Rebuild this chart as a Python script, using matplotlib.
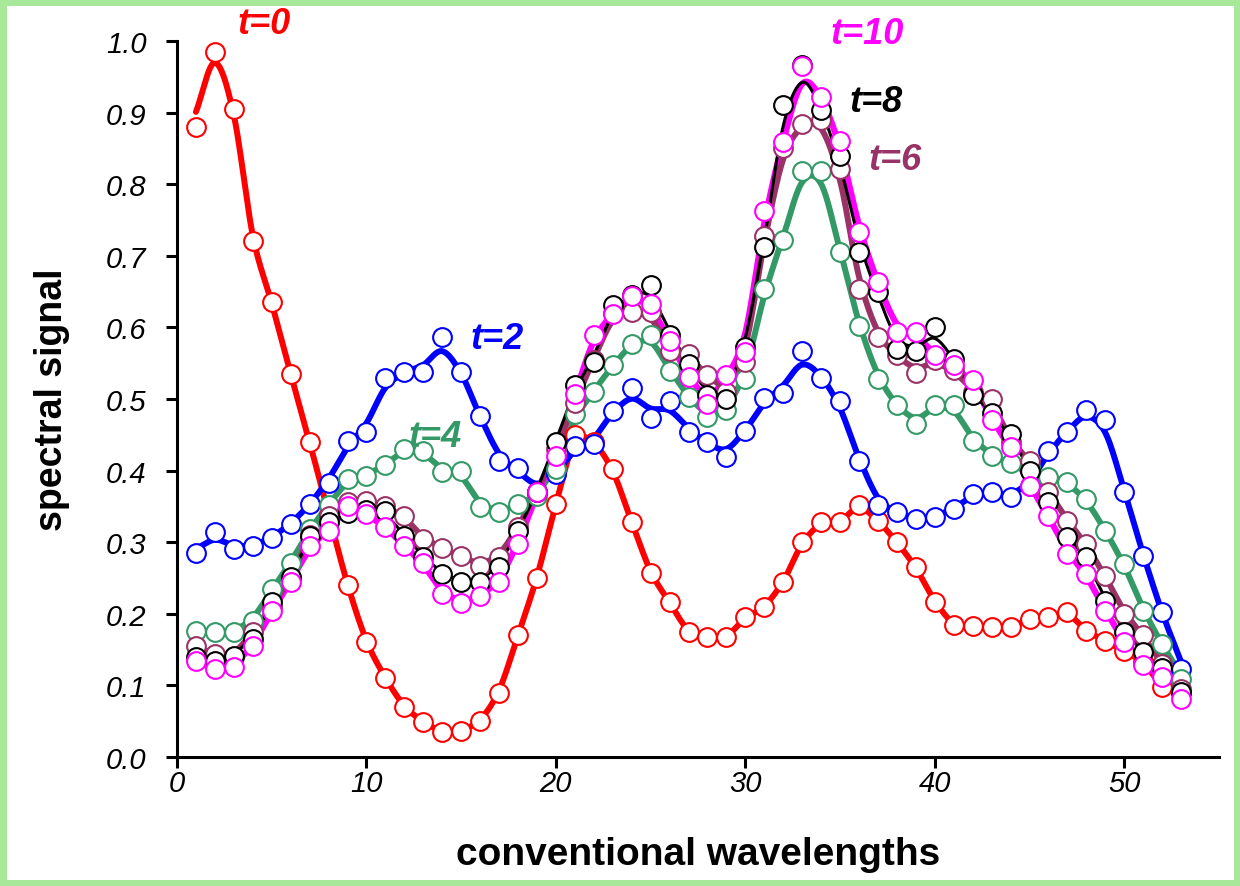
import matplotlib
matplotlib.use("Agg")
import matplotlib.pyplot as plt
import numpy as np

plt.rcParams['font.family'] = ['Liberation Sans', 'DejaVu Sans']

# conventional wavelength index
wavelengths = np.arange(1, 54)

t0 = [0.88, 0.985, 0.905, 0.72, 0.635, 0.535, 0.44, 0.34, 0.24, 0.16,
      0.11, 0.07, 0.049, 0.035, 0.037, 0.05, 0.09, 0.17, 0.25, 0.353,
      0.45, 0.44, 0.402, 0.328, 0.257, 0.216, 0.174, 0.167, 0.167, 0.195,
      0.209, 0.244, 0.30, 0.328, 0.328, 0.352, 0.33, 0.30, 0.265, 0.217,
      0.184, 0.183, 0.181, 0.181, 0.193, 0.195, 0.202, 0.176, 0.162, 0.148,
      0.133, 0.098, 0.09]
t2 = [0.285, 0.314, 0.29, 0.295, 0.306, 0.325, 0.353, 0.383, 0.441, 0.454,
      0.529, 0.538, 0.538, 0.586, 0.538, 0.476, 0.413, 0.404, 0.37, 0.395,
      0.435, 0.437, 0.483, 0.515, 0.474, 0.497, 0.454, 0.44, 0.419, 0.455,
      0.502, 0.509, 0.567, 0.53, 0.497, 0.413, 0.352, 0.342, 0.332, 0.335,
      0.346, 0.367, 0.37, 0.363, 0.379, 0.428, 0.454, 0.484, 0.47, 0.37,
      0.281, 0.202, 0.123]
t4 = [0.176, 0.175, 0.175, 0.19, 0.234, 0.271, 0.318, 0.352, 0.388, 0.392,
      0.408, 0.43, 0.427, 0.398, 0.40, 0.349, 0.342, 0.353, 0.365, 0.402,
      0.479, 0.51, 0.547, 0.577, 0.59, 0.539, 0.503, 0.475, 0.484, 0.528,
      0.654, 0.722, 0.819, 0.819, 0.706, 0.602, 0.528, 0.491, 0.465, 0.491,
      0.491, 0.442, 0.421, 0.41, 0.405, 0.391, 0.384, 0.36, 0.316, 0.27,
      0.204, 0.158, 0.109]
t6 = [0.155, 0.144, 0.14, 0.175, 0.21, 0.25, 0.31, 0.337, 0.356, 0.358,
      0.35, 0.337, 0.304, 0.292, 0.281, 0.267, 0.279, 0.321, 0.37, 0.43,
      0.495, 0.555, 0.62, 0.621, 0.621, 0.567, 0.563, 0.533, 0.51, 0.552,
      0.728, 0.85, 0.884, 0.89, 0.821, 0.654, 0.587, 0.561, 0.537, 0.555,
      0.54, 0.51, 0.50, 0.44, 0.414, 0.37, 0.33, 0.297, 0.253, 0.20,
      0.17, 0.13, 0.095]
t8 = [0.14, 0.134, 0.141, 0.165, 0.216, 0.251, 0.309, 0.328, 0.341, 0.345,
      0.344, 0.309, 0.28, 0.256, 0.244, 0.245, 0.265, 0.316, 0.37, 0.44,
      0.52, 0.552, 0.631, 0.645, 0.659, 0.59, 0.549, 0.505, 0.50, 0.573,
      0.712, 0.91, 0.966, 0.903, 0.84, 0.705, 0.65, 0.57, 0.567, 0.60,
      0.556, 0.505, 0.48, 0.451, 0.40, 0.356, 0.307, 0.28, 0.218, 0.174,
      0.146, 0.125, 0.091]
t10 = [0.134, 0.123, 0.126, 0.155, 0.204, 0.244, 0.295, 0.316, 0.351, 0.339,
       0.321, 0.295, 0.271, 0.228, 0.215, 0.225, 0.244, 0.297, 0.37, 0.42,
       0.507, 0.59, 0.619, 0.644, 0.633, 0.581, 0.531, 0.493, 0.533, 0.565,
       0.762, 0.859, 0.965, 0.922, 0.861, 0.733, 0.663, 0.593, 0.593, 0.561,
       0.547, 0.526, 0.47, 0.433, 0.379, 0.337, 0.284, 0.256, 0.204, 0.16,
       0.128, 0.112, 0.081]

labels = ["t=0", "t=2", "t=4", "t=6", "t=8", "t=10"]
colors = ["#ff0000", "#0000ff", "#339966", "#993366", "#000000", "#ff00ff"]


def smooth_curve(x, y, w=4, n=20):
    """Light 1-w-1 smoothing, then a Catmull-Rom spline for the trend line."""
    y = np.asarray(y, dtype=float)
    ys = y.copy()
    ys[1:-1] = (y[:-2] + w * y[1:-1] + y[2:]) / (w + 2)
    ys[0] = (4 * y[0] + y[1]) / 5
    ys[-1] = (7 * y[-1] + y[-2]) / 8
    px = np.concatenate([[2 * x[0] - x[1]], x, [2 * x[-1] - x[-2]]])
    py = np.concatenate([[2 * ys[0] - ys[1]], ys, [2 * ys[-1] - ys[-2]]])
    s = np.linspace(0, 1, n, endpoint=False)
    xs, yy = [], []
    for i in range(1, len(px) - 2):
        for arr, out in ((px, xs), (py, yy)):
            p0, p1, p2, p3 = arr[i - 1], arr[i], arr[i + 1], arr[i + 2]
            out.extend(0.5 * (2 * p1 + (-p0 + p2) * s
                              + (2 * p0 - 5 * p1 + 4 * p2 - p3) * s ** 2
                              + (-p0 + 3 * p1 - 3 * p2 + p3) * s ** 3))
    xs.append(x[-1])
    yy.append(ys[-1])
    return np.array(xs), np.array(yy)


fig = plt.figure(figsize=(12.4, 8.87), dpi=100)
# white page with a light green frame
fig.patch.set_facecolor("white")
fig.patch.set_edgecolor("#a8e89a")
fig.patch.set_linewidth(8)

ax = fig.add_axes([177 / 1240, 129 / 887, 1042 / 1240, 716 / 887])
ax.set_facecolor("none")

series = [t0, t2, t4, t6, t8, t10]
line_w = {"t=0": 4.3, "t=2": 4.3, "t=4": 4.3, "t=6": 4.3, "t=8": 2.2, "t=10": 4.5}
line_z = {"t=0": 2, "t=2": 2.1, "t=4": 2.2, "t=10": 2.3, "t=8": 2.5, "t=6": 2.4}
smooth_w = {"t=0": 10, "t=2": 3, "t=4": 4, "t=6": 4, "t=8": 3, "t=10": 4}

for vals, lab, col in zip(series, labels, colors):
    cx, cy = smooth_curve(wavelengths, vals, w=smooth_w[lab])
    ax.plot(cx, cy, color=col, lw=line_w[lab], zorder=line_z[lab],
            solid_capstyle="round")

for i, (vals, lab, col) in enumerate(zip(series, labels, colors)):
    ax.plot(wavelengths, vals, linestyle="", marker="o", ms=13.5,
            markerfacecolor="white", markeredgecolor=col, mew=1.5,
            zorder=3 + i * 0.1)

label_pos = {"t=0": (3.2, 1.025), "t=2": (15.5, 0.584), "t=4": (12.2, 0.448),
             "t=6": (36.5, 0.835), "t=8": (35.5, 0.916), "t=10": (34.5, 1.011)}
for lab, col in zip(labels, colors):
    lx, ly = label_pos[lab]
    ax.text(lx, ly, lab, color=col, fontsize=26, fontweight="bold",
            fontstyle="italic", ha="left", va="center", zorder=5,
            clip_on=False)

ax.set_xlim(0, 55)
ax.set_ylim(0, 1.0)
ax.set_xticks([0, 10, 20, 30, 40, 50])
ax.set_yticks(np.arange(0, 1.01, 0.1))
ax.set_yticklabels([f"{v:.1f}" for v in np.arange(0, 1.01, 0.1)])

for side in ("top", "right"):
    ax.spines[side].set_visible(False)
for side in ("left", "bottom"):
    ax.spines[side].set_linewidth(2.2)
ax.tick_params(direction="out", length=8, width=2.2, labelsize=21)
ax.tick_params(axis="x", pad=1)
ax.tick_params(axis="y", pad=14)
for lab in ax.get_xticklabels() + ax.get_yticklabels():
    lab.set_fontstyle("italic")

ax.set_xlabel("conventional wavelengths", fontsize=28, fontweight="bold",
              labelpad=28)
ax.set_ylabel("spectral signal", fontsize=27, fontweight="bold", labelpad=26)

fig.savefig("out.png", dpi=100, facecolor=fig.patch.get_facecolor(),
            edgecolor=fig.patch.get_edgecolor())
